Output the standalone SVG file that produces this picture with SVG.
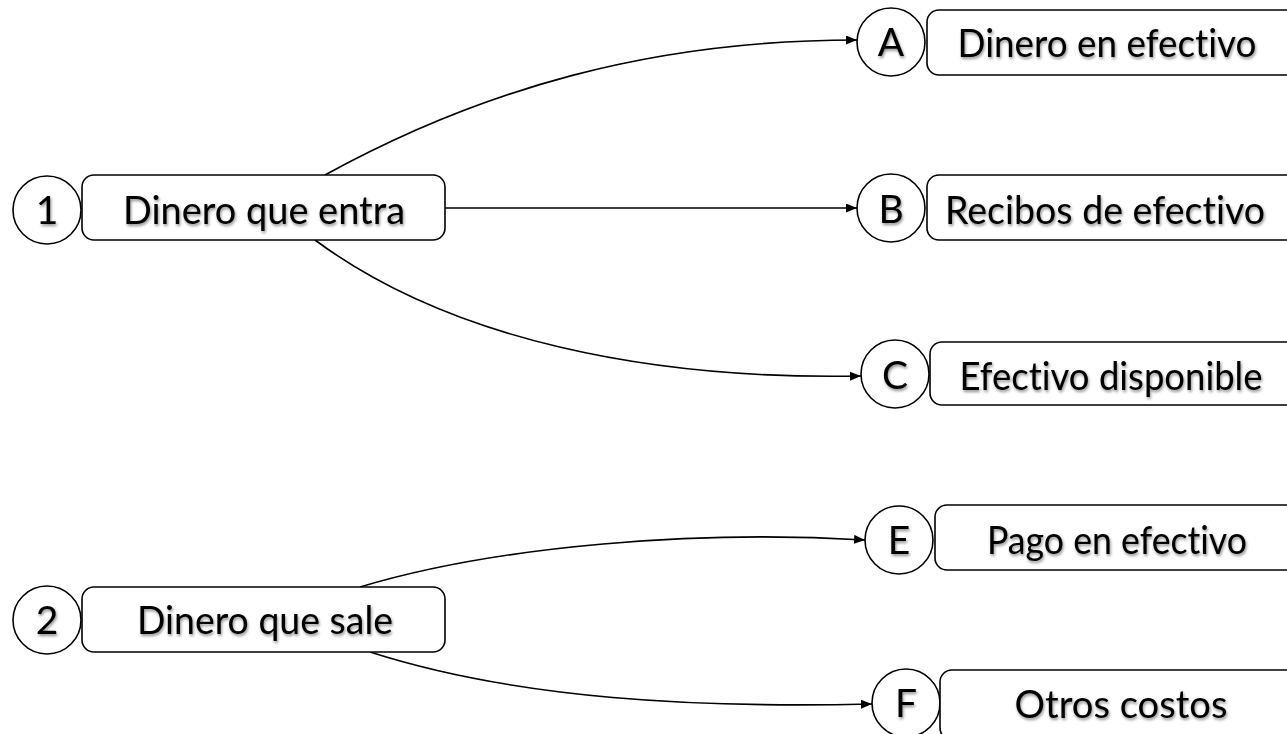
<svg xmlns="http://www.w3.org/2000/svg" width="1287" height="734" viewBox="0 0 1287 734">
<style>
.shape{fill:#fff;stroke:#000;stroke-width:1.6}
.lbl{font-family:Lato,"Open Sans","Liberation Sans",sans-serif;font-size:39px;fill:#000;text-anchor:middle;font-variant-ligatures:none;filter:url(#sh)}
.conn path{fill:none;stroke:#000;stroke-width:1.6}
</style>
<defs>
<marker id="arr" markerUnits="userSpaceOnUse" markerWidth="11" markerHeight="9" refX="11" refY="4.5" orient="auto">
<path d="M0,0 L11,4.5 L0,9 z" fill="#000"/>
</marker>
<filter id="sh" x="-10%" y="-30%" width="120%" height="160%">
<feGaussianBlur in="SourceAlpha" stdDeviation="1.5"/>
<feOffset dx="1" dy="2" result="b"/>
<feComponentTransfer><feFuncA type="linear" slope="0.45"/></feComponentTransfer>
<feMerge><feMergeNode/><feMergeNode in="SourceGraphic"/></feMerge>
</filter>
</defs>
<g class="conn" id="connectors">
<path d="M325,175 C480,90 650,40 857,40" marker-end="url(#arr)"/>
<path d="M445,208 L857,208" marker-end="url(#arr)"/>
<path d="M315,240 C450,340 650,380 861,376" marker-end="url(#arr)"/>
<path d="M360,587 C500,545 700,530 865,540" marker-end="url(#arr)"/>
<path d="M370,652 C520,700 700,708 872,704" marker-end="url(#arr)"/>
</g>
<g id="node1">
<circle class="shape" cx="47" cy="210" r="34"/>
<rect class="shape" x="82" y="175" width="363" height="65" rx="12"/>
<text class="lbl" x="47" y="224">1</text>
<text class="lbl" x="264" y="224" textLength="282" lengthAdjust="spacingAndGlyphs">Dinero que entra</text>
</g>
<g id="nodeA">
<circle class="shape" cx="891" cy="42" r="34"/>
<rect class="shape" x="927" y="10" width="372" height="65" rx="12"/>
<text class="lbl" x="891" y="56">A</text>
<text class="lbl" x="1107" y="57" textLength="299" lengthAdjust="spacingAndGlyphs">Dinero en efectivo</text>
</g>
<g id="nodeB">
<circle class="shape" cx="891" cy="208" r="34"/>
<rect class="shape" x="927" y="175" width="372" height="65" rx="12"/>
<text class="lbl" x="891" y="223">B</text>
<text class="lbl" x="1105" y="224" textLength="320" lengthAdjust="spacingAndGlyphs">Recibos de efectivo</text>
</g>
<g id="nodeC">
<circle class="shape" cx="895" cy="374" r="34"/>
<rect class="shape" x="930" y="342" width="370" height="63" rx="12"/>
<text class="lbl" x="895" y="389">C</text>
<text class="lbl" x="1111" y="390" textLength="303" lengthAdjust="spacingAndGlyphs">Efectivo disponible</text>
</g>
<g id="nodeE">
<circle class="shape" cx="899" cy="540" r="34"/>
<rect class="shape" x="935" y="505" width="365" height="65" rx="12"/>
<text class="lbl" x="899" y="554">E</text>
<text class="lbl" x="1117" y="554" textLength="260" lengthAdjust="spacingAndGlyphs">Pago en efectivo</text>
</g>
<g id="nodeF">
<circle class="shape" cx="906" cy="703" r="34"/>
<rect class="shape" x="940" y="670" width="365" height="70" rx="12"/>
<text class="lbl" x="906" y="717">F</text>
<text class="lbl" x="1121" y="718" textLength="213" lengthAdjust="spacingAndGlyphs">Otros costos</text>
</g>
<g id="node2">
<circle class="shape" cx="47" cy="620" r="34"/>
<rect class="shape" x="82" y="587" width="363" height="65" rx="12"/>
<text class="lbl" x="47" y="634">2</text>
<text class="lbl" x="265" y="634" textLength="256" lengthAdjust="spacingAndGlyphs">Dinero que sale</text>
</g>
</svg>
